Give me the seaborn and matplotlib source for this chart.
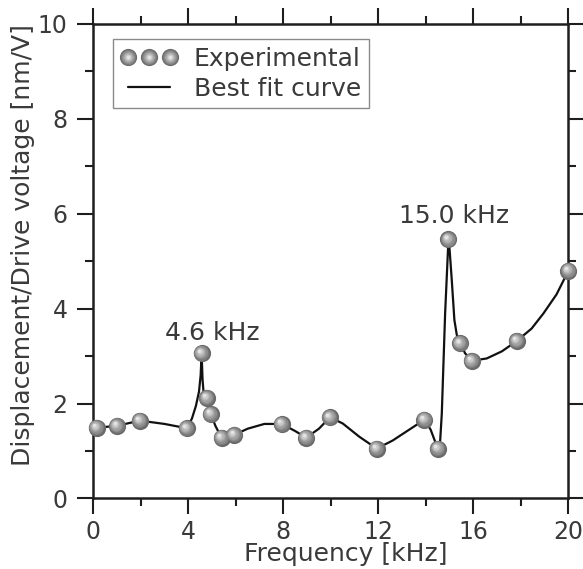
import matplotlib
matplotlib.use("Agg")
import matplotlib.pyplot as plt
import matplotlib.transforms as mtransforms
from matplotlib.lines import Line2D
from matplotlib.legend_handler import HandlerTuple
from matplotlib.ticker import MultipleLocator
import seaborn as sns
import numpy as np

# Experimental data (kHz, nm/V)
freq_exp = [0.14, 1.0, 1.96, 3.93, 4.56, 4.78, 4.94, 5.40, 5.93, 7.93,
            8.96, 9.96, 11.93, 13.94, 14.50, 14.95, 15.44, 15.93, 17.83, 20.0]
disp_exp = [1.49, 1.53, 1.64, 1.48, 3.06, 2.12, 1.78, 1.28, 1.34, 1.57,
            1.28, 1.71, 1.05, 1.66, 1.05, 5.46, 3.27, 2.90, 3.32, 4.80]

# Best fit curve
freq_fit = [0.14, 1.0, 1.96, 3.0, 3.93, 4.15, 4.32, 4.45, 4.52, 4.56, 4.60,
            4.64, 4.78, 4.94, 5.15, 5.40, 5.93, 6.5, 7.2, 7.93, 8.5, 8.96,
            9.5, 9.96, 10.5, 11.2, 11.93, 12.6, 13.3, 13.94, 14.2, 14.5,
            14.6, 14.67, 14.81, 14.9, 14.95, 14.99, 15.09, 15.2, 15.3, 15.44,
            15.65, 15.93, 16.56, 17.2, 17.83, 18.45, 18.95, 19.5, 20.0]
disp_fit = [1.49, 1.53, 1.64, 1.57, 1.48, 1.68, 1.95, 2.25, 2.6, 3.06, 2.5,
            2.25, 2.12, 1.78, 1.52, 1.28, 1.34, 1.47, 1.57, 1.57, 1.42, 1.28,
            1.47, 1.71, 1.58, 1.30, 1.05, 1.22, 1.45, 1.66, 1.45, 1.05,
            1.20, 1.79, 3.9, 4.9, 5.46, 5.3, 4.6, 3.76, 3.45, 3.27,
            3.06, 2.90, 2.95, 3.10, 3.32, 3.58, 3.90, 4.30, 4.80]

peak_labels = ["4.6 kHz", "15.0 kHz"]
peak_label_x = [5.0, 15.2]
peak_label_y = [3.34, 5.80]

x_ticks = [0, 4, 8, 12, 16, 20]
y_ticks = [0, 2, 4, 6, 8, 10]

sns.set_theme(style="white")
plt.rcParams['font.family'] = ['DejaVu Sans']
text_col = "#3a3a3a"
axis_col = "#1e1e1e"
fs = 18

fig = plt.figure(figsize=(5.83, 5.69), dpi=100)
ax = fig.add_axes([0.16, 0.124, 0.815, 0.834])

sns.lineplot(x=freq_fit, y=disp_fit, ax=ax, color="#111111", lw=1.6,
             estimator=None, sort=False, zorder=2)

# shaded "ball" markers: layered circles with highlight offset up-left
layers = [(12.4, "#6a6a6a", 0.0), (11.0, "#7b7b7b", 0.3), (9.4, "#8d8d8d", 0.6),
          (7.8, "#a0a0a0", 0.9), (6.0, "#b5b5b5", 1.2), (4.2, "#cbcbcb", 1.5),
          (2.6, "#e4e4e4", 1.8)]
for i, (d, c, off) in enumerate(layers):
    tr = mtransforms.offset_copy(ax.transData, fig=fig, x=-off, y=off, units='points')
    sns.scatterplot(x=freq_exp, y=disp_exp, ax=ax, s=d ** 2, color=c,
                    linewidth=0, transform=tr, zorder=3 + i, legend=False,
                    clip_on=False)

for lab, lx, ly in zip(peak_labels, peak_label_x, peak_label_y):
    ax.text(lx, ly, lab, ha="center", va="baseline", fontsize=fs, color=text_col)

ax.set_xlim(0, 20)
ax.set_ylim(0, 10)
ax.set_xticks(x_ticks)
ax.set_yticks(y_ticks)
ax.xaxis.set_minor_locator(MultipleLocator(2))
ax.yaxis.set_minor_locator(MultipleLocator(1))
ax.tick_params(which="both", direction="out", top=True, right=True,
               bottom=True, left=True, color=axis_col,
               labelcolor=text_col, labelsize=17)
ax.tick_params(which="major", length=11.5, width=1.5)
ax.tick_params(which="minor", length=5.5, width=1.5)
ax.tick_params(axis="y", which="major", pad=7)
ax.tick_params(axis="x", which="major", pad=4)
for sp in ax.spines.values():
    sp.set_color(axis_col)
    sp.set_linewidth(1.8)

ax.set_xlabel("Frequency [kHz]", fontsize=fs, color=text_col)
ax.set_ylabel("Displacement/Drive voltage [nm/V]", fontsize=fs, color=text_col)
ax.xaxis.set_label_coords(0.531, -0.092)
ax.yaxis.set_label_coords(-0.123, 0.534)

# legend
ball_handle = tuple(Line2D([], [], ls="", marker="o", ms=d, color=c, mew=0)
                    for d, c, off in layers)
line_handle = Line2D([], [], color="#111111", lw=1.6)
leg = ax.legend([ball_handle, line_handle], ["Experimental", "Best fit curve"],
                handler_map={tuple: HandlerTuple(ndivide=1)},
                numpoints=3, loc="upper left", bbox_to_anchor=(0.041, 0.968),
                fontsize=fs, frameon=True, fancybox=False, framealpha=1,
                edgecolor="#8a8a8a", handlelength=2.3, handletextpad=0.64,
                borderpad=0.3, labelspacing=0.25, borderaxespad=0)
leg.get_frame().set_linewidth(1.0)
for t in leg.get_texts():
    t.set_color(text_col)

fig.savefig("out.png", dpi=100)
